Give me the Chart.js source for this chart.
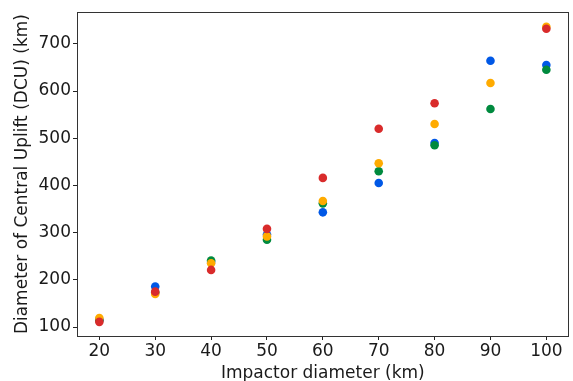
<!DOCTYPE html>
<html>
<head>
<meta charset="utf-8">
<script src="https://cdn.jsdelivr.net/npm/chart.js@4/dist/chart.umd.min.js"></script>
<style>
html,body{margin:0;padding:0;background:#fff;}
#wrap{width:573px;height:381px;position:relative;}
</style>
</head>
<body>
<div id="wrap"><canvas id="c" width="573" height="381"></canvas></div>
<script>
const impactorDiameters = [20, 30, 40, 50, 60, 70, 80, 90, 100];
const blueValues   = [116, 186, 238, 296, 343, 405, 490, 664, 655];
const orangeValues = [119, 170, 235, 292, 367, 447, 530, 617, 736];
const greenValues  = [114, 173, 241, 285, 362, 430, 485, 562, 645];
const redValues    = [111, 175, 221, 308, 416, 520, 574, null, 732];
const xTickValues = [20, 30, 40, 50, 60, 70, 80, 90, 100];
const yTickValues = [100, 200, 300, 400, 500, 600, 700];

function pts(vals){ return impactorDiameters.map((x,i)=>({x:x, y:vals[i]})).filter(p=>p.y!==null); }

const frame = {
  id:'frame',
  afterDraw(chart){
    const a = chart.chartArea, ctx = chart.ctx;
    ctx.save();
    ctx.strokeStyle = '#333';
    ctx.lineWidth = 1;
    ctx.strokeRect(Math.round(a.left)+0.5, Math.round(a.top)+0.5, Math.round(a.right-a.left)-1, Math.round(a.bottom-a.top));
    ctx.restore();
  }
};

const mk = (label, vals, color) => ({
  label, data: pts(vals), backgroundColor: color, borderColor: color,
  pointRadius: 4.3, pointHoverRadius: 4.3, borderWidth: 0, showLine: false
});

const FONT = 'DejaVu Sans';
new Chart(document.getElementById('c'), {
  type: 'scatter',
  data: { datasets: [
    mk('red', redValues, '#d92b2b'),
    mk('orange', orangeValues, '#ffab00'),
    mk('green', greenValues, '#008a3e'),
    mk('blue', blueValues, '#0058e6')
  ]},
  options: {
    responsive: false,
    animation: false,
    events: [],
    layout: { padding: { left: 12, right: 1, top: 12, bottom: 0 } },
    plugins: { legend: { display: false }, tooltip: { enabled: false } },
    scales: {
      x: {
        type: 'linear', min: 16, max: 104,
        afterBuildTicks: s => { s.ticks = xTickValues.map(v=>({value:v})); },
        afterFit: s => { s.height = 45; },
        grid: { drawOnChartArea: false, drawTicks: true, tickLength: 4, tickColor: '#222', color: '#222' },
        border: { display: false },
        ticks: { color: '#1a1a1a', font: { family: FONT, size: 17 }, padding: 1, maxRotation: 0, autoSkip: false },
        title: { display: true, text: 'Impactor diameter (km)', color: '#1a1a1a', font: { family: FONT, size: 17 }, padding: { top: 0, bottom: -3 } }
      },
      y: {
        type: 'linear', min: 81, max: 767,
        afterBuildTicks: s => { s.ticks = yTickValues.map(v=>({value:v})); },
        afterFit: s => { s.width = 65; },
        grid: { drawOnChartArea: false, drawTicks: true, tickLength: 4, tickColor: '#222', color: '#222' },
        border: { display: false },
        ticks: { color: '#1a1a1a', font: { family: FONT, size: 17 }, padding: 2, autoSkip: false },
        title: { display: true, text: 'Diameter of Central Uplift (DCU) (km)', color: '#1a1a1a', font: { family: FONT, size: 17 }, padding: { top: 0, bottom: 0 } }
      }
    }
  },
  plugins: [frame]
});
</script>
</body>
</html>
